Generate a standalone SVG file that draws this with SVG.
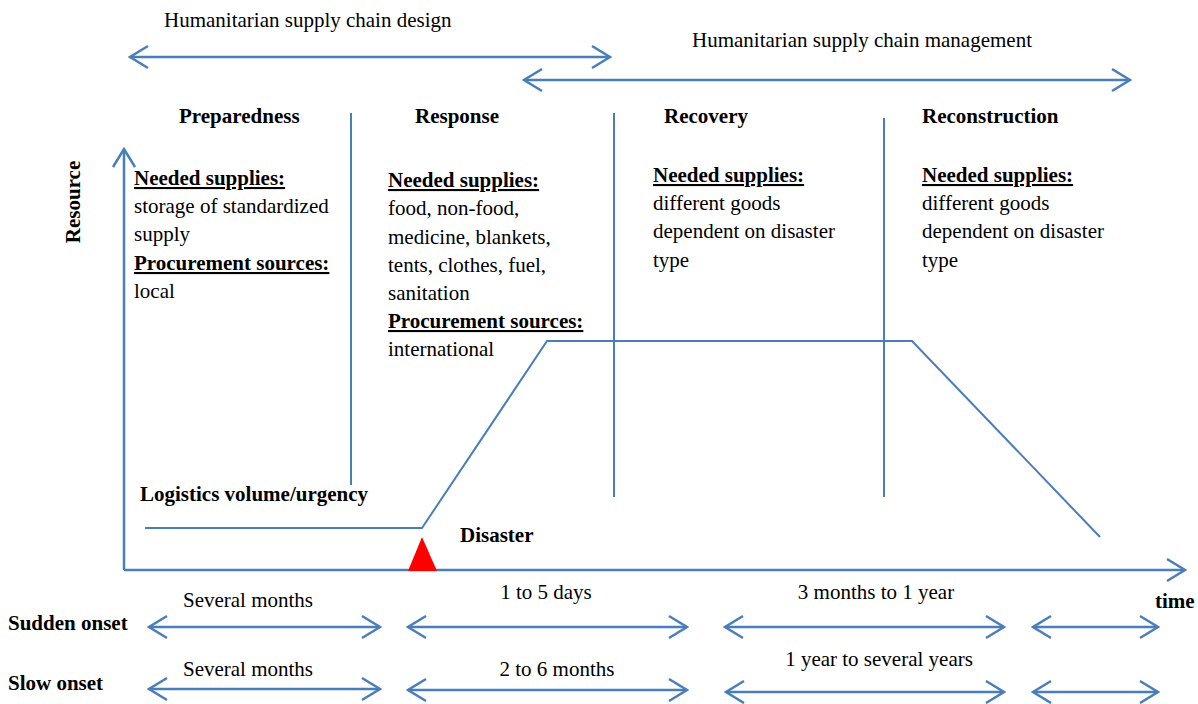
<svg xmlns="http://www.w3.org/2000/svg" width="1198" height="704" viewBox="0 0 1198 704">
<style>
text{font-family:"Liberation Serif","Times New Roman","DejaVu Serif",serif;font-size:21px;fill:#000}
.b{font-weight:bold}
.u{text-decoration:underline}
.ln{stroke:#4a7ebb;stroke-width:2;fill:none}
.ar{stroke:#4a7ebb;stroke-width:2.5;fill:none}
</style>
<defs>
<marker id="ch" viewBox="0 0 22 26" refX="20" refY="13" markerWidth="22" markerHeight="26" markerUnits="userSpaceOnUse" orient="auto-start-reverse">
<path d="M2,2 L20,13 L2,24" fill="none" stroke="#4a7ebb" stroke-width="2.5"/>
</marker>
</defs>
<g id="connectors">
<line class="ar" x1="130" y1="57" x2="610" y2="57" marker-start="url(#ch)" marker-end="url(#ch)"/>
<line class="ar" x1="524" y1="80" x2="1130" y2="80" marker-start="url(#ch)" marker-end="url(#ch)"/>
<line class="ln" x1="351" y1="113" x2="351" y2="485"/>
<line class="ln" x1="614" y1="113" x2="614" y2="497"/>
<line class="ln" x1="884" y1="118" x2="884" y2="497"/>
<polyline class="ar" points="124,570 124,149" marker-end="url(#ch)"/>
<polyline class="ar" points="124,570 1185,570" marker-end="url(#ch)"/>
<polyline class="ln" points="145,528 422,528 547,341 912,341 1100,537"/>
<line class="ar" x1="149" y1="627" x2="380" y2="627" marker-start="url(#ch)" marker-end="url(#ch)"/>
<line class="ar" x1="408" y1="627" x2="687" y2="627" marker-start="url(#ch)" marker-end="url(#ch)"/>
<line class="ar" x1="725" y1="627" x2="1004" y2="627" marker-start="url(#ch)" marker-end="url(#ch)"/>
<line class="ar" x1="1033" y1="627" x2="1158" y2="627" marker-start="url(#ch)" marker-end="url(#ch)"/>
<line class="ar" x1="149" y1="689" x2="380" y2="689" marker-start="url(#ch)" marker-end="url(#ch)"/>
<line class="ar" x1="408" y1="690" x2="687" y2="690" marker-start="url(#ch)" marker-end="url(#ch)"/>
<line class="ar" x1="726" y1="692" x2="1004" y2="692" marker-start="url(#ch)" marker-end="url(#ch)"/>
<line class="ar" x1="1033" y1="692" x2="1158" y2="692" marker-start="url(#ch)" marker-end="url(#ch)"/>
</g>
<g id="disaster-marker"><polygon points="408,571 422,537 437,571" fill="#ff0000"/></g>
<g id="titles">
<text x="164" y="27">Humanitarian supply chain design</text>
<text x="692" y="47">Humanitarian supply chain management</text>
</g>
<g id="preparedness">
<text class="b" x="179" y="123">Preparedness</text>
<text class="b u" x="134" y="185">Needed supplies:</text>
<text x="134" y="213">storage of standardized</text>
<text x="134" y="241">supply</text>
<text class="b u" x="134" y="270">Procurement sources:</text>
<text x="134" y="298">local</text>
</g>
<g id="response">
<text class="b" x="415" y="123">Response</text>
<text class="b u" x="388" y="187">Needed supplies:</text>
<text x="388" y="215">food, non-food,</text>
<text x="388" y="244">medicine, blankets,</text>
<text x="388" y="272">tents, clothes, fuel,</text>
<text x="388" y="300">sanitation</text>
<text class="b u" x="388" y="328">Procurement sources:</text>
<text x="388" y="356">international</text>
</g>
<g id="recovery">
<text class="b" x="664" y="123">Recovery</text>
<text class="b u" x="653" y="182">Needed supplies:</text>
<text x="653" y="210">different goods</text>
<text x="653" y="238">dependent on disaster</text>
<text x="653" y="267">type</text>
</g>
<g id="reconstruction">
<text class="b" x="922" y="123">Reconstruction</text>
<text class="b u" x="922" y="182">Needed supplies:</text>
<text x="922" y="210">different goods</text>
<text x="922" y="238">dependent on disaster</text>
<text x="922" y="267">type</text>
</g>
<g id="axes-labels">
<text class="b" transform="translate(80,202) rotate(-90)" text-anchor="middle">Resource</text>
<text class="b" x="140" y="501">Logistics volume/urgency</text>
<text class="b" x="460" y="542">Disaster</text>
<text class="b" x="1155" y="608">time</text>
</g>
<g id="timescales">
<text class="b" x="8" y="630">Sudden onset</text>
<text class="b" x="8" y="690">Slow onset</text>
<text x="248" y="607" text-anchor="middle">Several months</text>
<text x="546" y="599" text-anchor="middle">1 to 5 days</text>
<text x="876" y="599" text-anchor="middle">3 months to 1 year</text>
<text x="248" y="676" text-anchor="middle">Several months</text>
<text x="557" y="676" text-anchor="middle">2 to 6 months</text>
<text x="879" y="666" text-anchor="middle">1 year to several years</text>
</g>
</svg>
